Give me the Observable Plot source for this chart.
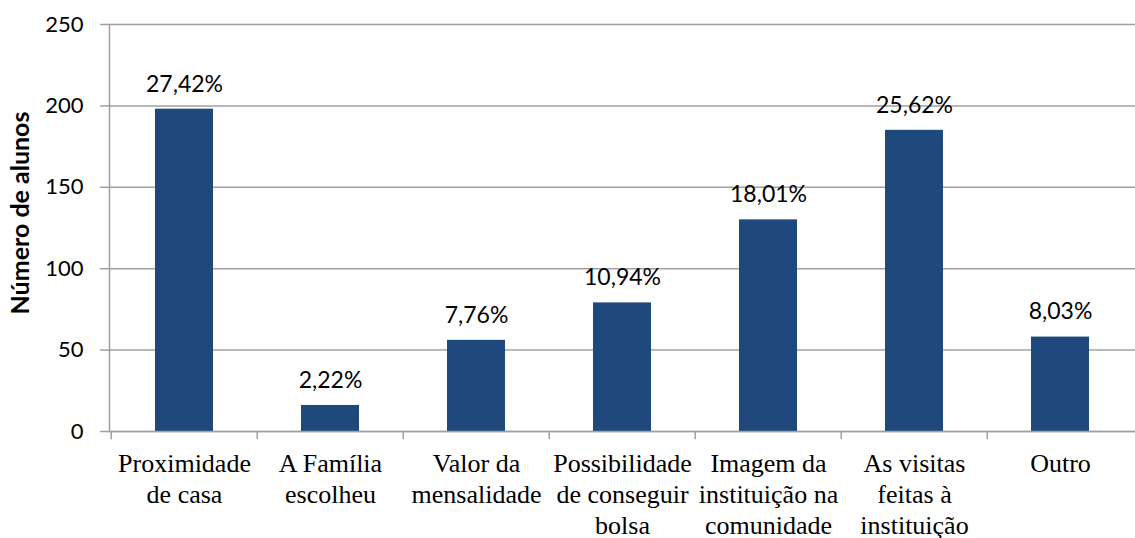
<!DOCTYPE html>
<html>
<head>
<meta charset="utf-8">
<script src="https://cdn.jsdelivr.net/npm/d3@7"></script>
<script src="https://cdn.jsdelivr.net/npm/@observablehq/plot@0.6"></script>
<style>
  html, body { margin: 0; padding: 0; background: #fff; }
  #chart svg { display: block; background: #fff; overflow: visible; }
</style>
</head>
<body>
<div id="chart"></div>
<script>
const categories = [
  "Proximidade\nde casa",
  "A Família\nescolheu",
  "Valor da\nmensalidade",
  "Possibilidade\nde conseguir\nbolsa",
  "Imagem da\ninstituição na\ncomunidade",
  "As visitas\nfeitas à\ninstituição",
  "Outro"
];
const values = [198, 16, 56, 79, 130, 185, 58];
const percentLabels = ["27,42%", "2,22%", "7,76%", "10,94%", "18,01%", "25,62%", "8,03%"];
const yTicks = [0, 50, 100, 150, 200, 250];
const yTitle = "Número de alunos";

const data = categories.map((c, i) => ({cat: c, value: values[i], label: percentLabels[i]}));

const W = 1135, H = 538;
const mL = 109, mR = 0, mT = 24, mB = 107;
const band = (W - mL - mR) / categories.length;
const gray = "#a0a0a0";
const SANS = "Lato";
const SERIF = "Liberation Serif";

const chart = Plot.plot({
  width: W,
  height: H,
  marginLeft: mL,
  marginRight: mR,
  marginTop: mT,
  marginBottom: mB,
  x: {domain: categories, paddingInner: 0.6, paddingOuter: 0.3, align: 0.5, axis: null},
  y: {domain: [0, 250]},
  marks: [
    Plot.gridY(yTicks, {stroke: gray, strokeOpacity: 1, strokeWidth: 1.5}),
    Plot.axisY(yTicks, {tickSize: 9, stroke: gray, strokeWidth: 1.5, tickPadding: 17, fontSize: 22, fontFamily: SANS, fill: "#000", label: null}),
    Plot.frame({anchor: "left", stroke: gray, strokeWidth: 1.5}),
    Plot.barY(data, {x: "cat", y: "value", fill: "#1f497d"}),
    Plot.ruleY([0], {stroke: gray, strokeWidth: 1.5}),
    Plot.ruleX(categories, {x: d => d, y1: 0, y2: -5, stroke: gray, strokeWidth: 1.5, dx: -band / 2}),
    Plot.text(categories, {x: d => d, y: 0, text: d => d, lineAnchor: "top", dy: 18, fontSize: 26, lineHeight: 1.2, fontFamily: SERIF, fill: "#000", className: "xlab"}),
    Plot.text(data, {x: "cat", y: "value", text: "label", dy: -25, fontSize: 23, fontFamily: SANS, fill: "#000"}),
    Plot.text([yTitle], {frameAnchor: "left", textAnchor: "middle", rotate: -90, dx: -89, dy: -15, fontSize: 25, fontWeight: "bold", fontFamily: SANS, fill: "#000"})
  ]
});
// force the serif face directly on each category label element
d3.select(chart).selectAll("g.xlab, g.xlab text, g.xlab tspan")
  .attr("font-family", SERIF)
  .style("font-family", '"Liberation Serif", "Times New Roman", serif');
document.getElementById("chart").appendChild(chart);
</script>
</body>
</html>
